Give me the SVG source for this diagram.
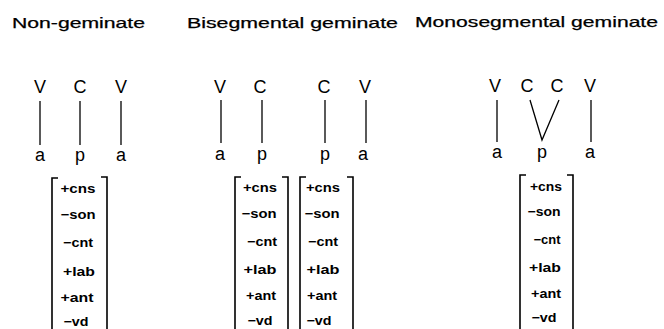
<svg xmlns="http://www.w3.org/2000/svg" width="664" height="329" viewBox="0 0 664 329">
<style>
.title{font-family:"Liberation Sans",Arial,sans-serif;font-size:14.5px;fill:#000;stroke:#000;stroke-width:0.25}
.seg{font-family:"Liberation Sans",Arial,sans-serif;font-size:18px;fill:#000;text-anchor:middle}
.feat{font-family:"Liberation Sans",Arial,sans-serif;font-size:12.5px;font-weight:bold;fill:#000;text-anchor:middle}
.assoc{stroke:#000;stroke-width:1.3;fill:none}
.br{stroke:#000;stroke-width:1.6;fill:none}
</style>
<rect width="664" height="329" fill="#fff"/>
<g id="titles">
<text class="title" x="12" y="28" textLength="133" lengthAdjust="spacingAndGlyphs">Non-geminate</text>
<text class="title" x="187" y="28" textLength="211" lengthAdjust="spacingAndGlyphs">Bisegmental geminate</text>
<text class="title" x="415" y="27" textLength="243" lengthAdjust="spacingAndGlyphs">Monosegmental geminate</text>
</g>
<g id="connectors">
<line class="assoc" x1="40" y1="101" x2="40" y2="145"/>
<line class="assoc" x1="80" y1="101" x2="80" y2="145"/>
<line class="assoc" x1="121" y1="101" x2="121" y2="145"/>
<line class="assoc" x1="221" y1="100" x2="221" y2="143"/>
<line class="assoc" x1="262" y1="100" x2="262" y2="143"/>
<line class="assoc" x1="325" y1="100" x2="325" y2="143"/>
<line class="assoc" x1="366" y1="100" x2="366" y2="143"/>
<line class="assoc" x1="497" y1="100" x2="497" y2="142"/>
<polyline class="assoc" points="530,100 542,140 559,100"/>
<line class="assoc" x1="591" y1="100" x2="591" y2="142"/>
</g>
<g id="non-geminate">
<text class="seg" x="40" y="93">V</text>
<text class="seg" x="80" y="93">C</text>
<text class="seg" x="121" y="93">V</text>
<text class="seg" x="40" y="161">a</text>
<text class="seg" x="80" y="161">p</text>
<text class="seg" x="121" y="161">a</text>
<path class="br" d="M58,178 H52 V329 M101,177 H107 V329"/>
<text class="feat" x="78" y="193" textLength="35" lengthAdjust="spacingAndGlyphs">+cns</text>
<text class="feat" x="78" y="219" textLength="35" lengthAdjust="spacingAndGlyphs">−son</text>
<text class="feat" x="78" y="247" textLength="30" lengthAdjust="spacingAndGlyphs">−cnt</text>
<text class="feat" x="79" y="276" textLength="32" lengthAdjust="spacingAndGlyphs">+lab</text>
<text class="feat" x="77" y="302" textLength="33" lengthAdjust="spacingAndGlyphs">+ant</text>
<text class="feat" x="76" y="326" textLength="25" lengthAdjust="spacingAndGlyphs">−vd</text>
</g>
<g id="bisegmental">
<text class="seg" x="220" y="93">V</text>
<text class="seg" x="260" y="93">C</text>
<text class="seg" x="324" y="93">C</text>
<text class="seg" x="365" y="93">V</text>
<text class="seg" x="220" y="160">a</text>
<text class="seg" x="262" y="160">p</text>
<text class="seg" x="325" y="160">p</text>
<text class="seg" x="363" y="160">a</text>
<path class="br" d="M241,177 H235 V329 M282,177 H288 V329"/>
<path class="br" d="M306,177 H300 V329 M347,177 H353 V329"/>
<text class="feat" x="260" y="192" textLength="34" lengthAdjust="spacingAndGlyphs">+cns</text>
<text class="feat" x="259" y="218" textLength="35" lengthAdjust="spacingAndGlyphs">−son</text>
<text class="feat" x="262" y="246" textLength="30" lengthAdjust="spacingAndGlyphs">−cnt</text>
<text class="feat" x="260" y="274" textLength="33" lengthAdjust="spacingAndGlyphs">+lab</text>
<text class="feat" x="261" y="300" textLength="30" lengthAdjust="spacingAndGlyphs">+ant</text>
<text class="feat" x="260" y="325" textLength="25" lengthAdjust="spacingAndGlyphs">−vd</text>
<text class="feat" x="323" y="192" textLength="34" lengthAdjust="spacingAndGlyphs">+cns</text>
<text class="feat" x="322" y="218" textLength="35" lengthAdjust="spacingAndGlyphs">−son</text>
<text class="feat" x="323" y="246" textLength="30" lengthAdjust="spacingAndGlyphs">−cnt</text>
<text class="feat" x="323" y="274" textLength="33" lengthAdjust="spacingAndGlyphs">+lab</text>
<text class="feat" x="322" y="300" textLength="30" lengthAdjust="spacingAndGlyphs">+ant</text>
<text class="feat" x="319" y="325" textLength="25" lengthAdjust="spacingAndGlyphs">−vd</text>
</g>
<g id="monosegmental">
<text class="seg" x="495" y="92">V</text>
<text class="seg" x="527" y="92">C</text>
<text class="seg" x="557" y="92">C</text>
<text class="seg" x="590" y="92">V</text>
<text class="seg" x="497" y="158">a</text>
<text class="seg" x="542" y="158">p</text>
<text class="seg" x="590" y="158">a</text>
<path class="br" d="M526,175 H520 V329 M567,175 H573 V329"/>
<text class="feat" x="546" y="191" textLength="32" lengthAdjust="spacingAndGlyphs">+cns</text>
<text class="feat" x="544" y="216" textLength="33" lengthAdjust="spacingAndGlyphs">−son</text>
<text class="feat" x="547" y="244" textLength="27" lengthAdjust="spacingAndGlyphs">−cnt</text>
<text class="feat" x="545" y="272" textLength="32" lengthAdjust="spacingAndGlyphs">+lab</text>
<text class="feat" x="546" y="298" textLength="30" lengthAdjust="spacingAndGlyphs">+ant</text>
<text class="feat" x="544" y="322" textLength="25" lengthAdjust="spacingAndGlyphs">−vd</text>
</g>
</svg>
